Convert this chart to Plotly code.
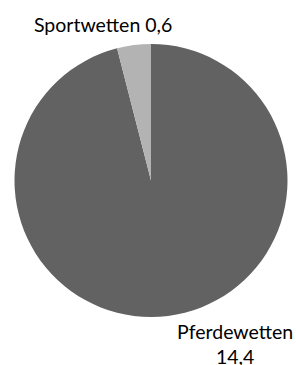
import plotly.graph_objects as go

labels = ["Pferdewetten", "Sportwetten"]
values = [14.4, 0.6]
colors = ["#626262", "#b3b3b3"]

def fmt(v):
    return f"{v:.1f}".replace(".", ",")

W, H = 296, 365

fig = go.Figure(go.Pie(
    labels=labels, values=values, sort=False, direction="clockwise",
    rotation=0, marker=dict(colors=colors, line=dict(width=0)),
    textinfo="none", hoverinfo="label+value", showlegend=False,
    domain=dict(x=[14/W, 288/W], y=[1-317/H, 1-44/H]),
))

font = dict(family="Lato, 'Open Sans', sans-serif", size=19.5, color="#000000")
fig.add_annotation(x=102.5/W, y=1-24.5/H, xref="paper", yref="paper",
                   xanchor="center", yanchor="middle",
                   text=f"{labels[1]} {fmt(values[1])}", showarrow=False, font=font)
fig.add_annotation(x=235/W, y=1-344/H, xref="paper", yref="paper",
                   xanchor="center", yanchor="middle",
                   text=f"{labels[0]}<br>{fmt(values[0])}", showarrow=False, font=font)

fig.update_layout(width=W, height=H, margin=dict(l=0, r=0, t=0, b=0),
                  paper_bgcolor="white", plot_bgcolor="white")
fig.write_html("out.html", config={"displayModeBar": False})

with open("out.html", encoding="utf-8") as f:
    html = f.read()
html = html.replace("<head>", "<head><style>html,body{margin:0;padding:0;overflow:hidden}</style>", 1)
with open("out.html", "w", encoding="utf-8") as f:
    f.write(html)
